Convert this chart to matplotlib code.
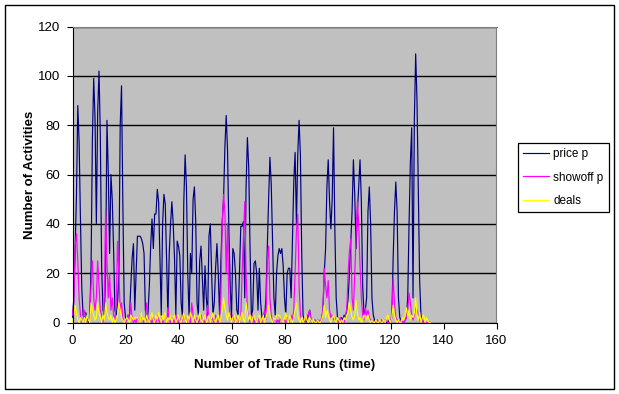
import numpy as np
import matplotlib.pyplot as plt
from matplotlib.patches import Rectangle

# values, one value every half trade run (0 .. 135)
step = 0.5

price_p = [
    2, 10, 30, 52, 88, 73, 42, 14, 3, 1, 4, 2, 0, 3, 22, 74, 99, 83, 40, 85,
    102, 76, 22, 5, 3, 20, 82, 61, 28, 60, 50, 30, 5, 3, 8, 20, 80, 96, 48, 8,
    2, 1, 3, 2, 15, 26, 32, 5, 20, 35, 35, 35, 34, 32, 28, 5, 1, 4, 15, 31,
    42, 30, 44, 44, 54, 49, 26, 3, 40, 52, 48, 26, 2, 28, 40, 49, 40, 26, 3, 33,
    31, 27, 8, 2, 49, 68, 55, 20, 2, 28, 20, 50, 55, 41, 8, 3, 25, 31, 18, 5,
    23, 10, 3, 35, 40, 20, 3, 8, 22, 32, 20, 3, 25, 41, 50, 71, 84, 70, 38, 15,
    2, 30, 28, 20, 5, 3, 20, 39, 39, 41, 10, 55, 75, 63, 30, 3, 5, 24, 25, 20,
    5, 22, 8, 2, 3, 2, 10, 30, 50, 67, 56, 33, 10, 3, 20, 27, 30, 28, 30, 23,
    10, 3, 20, 22, 22, 10, 34, 57, 69, 40, 68, 82, 68, 28, 3, 1, 0, 1, 3, 5,
    1, 0, 0, 1, 0, 1, 0, 0, 1, 5, 20, 30, 55, 66, 49, 38, 50, 79, 38, 10,
    2, 1, 1, 2, 1, 3, 2, 5, 10, 20, 33, 45, 66, 52, 30, 45, 55, 66, 49, 15,
    3, 5, 10, 45, 55, 40, 10, 3, 1, 0, 1, 0, 0, 1, 0, 0, 1, 0, 0, 1,
    0, 2, 26, 45, 57, 45, 10, 2, 1, 0, 0, 1, 2, 10, 40, 65, 79, 10, 82, 109,
    90, 53, 17, 3, 1, 0, 0, 0, 0, 0, 0,
]

showoff_p = [
    3, 8, 31, 36, 25, 10, 3, 0, 1, 5, 2, 0, 1, 2, 15, 25, 10, 5, 10, 25,
    15, 5, 3, 0, 10, 46, 25, 10, 20, 5, 10, 3, 1, 8, 33, 20, 5, 8, 2, 0,
    0, 1, 3, 1, 8, 2, 0, 1, 0, 2, 1, 0, 3, 1, 0, 2, 8, 2, 0, 1,
    0, 2, 1, 0, 3, 1, 0, 2, 0, 1, 3, 0, 6, 1, 0, 2, 1, 0, 3, 1,
    0, 2, 0, 1, 4, 1, 0, 3, 1, 0, 8, 3, 1, 0, 2, 0, 1, 3, 0, 1,
    0, 2, 7, 1, 0, 2, 1, 0, 3, 1, 0, 2, 10, 40, 52, 45, 20, 40, 8, 2,
    0, 3, 1, 0, 2, 1, 0, 2, 20, 35, 49, 20, 5, 2, 0, 1, 3, 0, 1, 0,
    2, 0, 1, 0, 3, 5, 1, 25, 31, 10, 3, 0, 1, 2, 0, 1, 0, 2, 1, 0,
    1, 0, 2, 0, 1, 3, 1, 5, 20, 37, 44, 15, 3, 1, 0, 2, 0, 3, 3, 5,
    1, 0, 0, 1, 0, 0, 1, 0, 2, 5, 22, 15, 10, 17, 5, 2, 3, 1, 2, 0,
    1, 0, 2, 0, 1, 0, 3, 5, 20, 29, 34, 10, 5, 20, 35, 49, 40, 23, 10, 3,
    1, 6, 3, 5, 2, 1, 0, 1, 0, 0, 1, 0, 0, 1, 0, 0, 0, 1, 0, 0,
    1, 3, 18, 8, 2, 1, 0, 1, 0, 0, 0, 1, 2, 5, 12, 8, 3, 1, 3, 6,
    5, 3, 1, 0, 1, 0, 0, 0, 0, 0, 0,
]

deals = [
    0, 3, 7, 4, 1, 0, 2, 1, 0, 2, 0, 3, 1, 0, 8, 5, 3, 1, 2, 8,
    4, 2, 0, 3, 1, 8, 4, 2, 1, 3, 0, 2, 0, 1, 3, 8, 5, 2, 1, 0,
    1, 2, 1, 0, 3, 2, 1, 2, 2, 2, 1, 0, 4, 1, 2, 0, 3, 1, 0, 2,
    4, 1, 0, 3, 1, 4, 2, 0, 3, 1, 4, 0, 2, 1, 3, 0, 2, 3, 0, 1,
    3, 1, 0, 2, 4, 1, 0, 3, 1, 4, 2, 0, 3, 1, 0, 2, 4, 1, 0, 2,
    3, 0, 1, 3, 0, 2, 4, 1, 0, 2, 3, 0, 2, 5, 10, 6, 3, 1, 4, 2,
    0, 2, 3, 0, 1, 3, 0, 2, 4, 1, 0, 8, 4, 1, 3, 0, 2, 3, 1, 0,
    2, 3, 0, 1, 3, 0, 2, 4, 7, 3, 1, 0, 2, 1, 3, 3, 3, 2, 1, 0,
    2, 4, 1, 0, 3, 1, 0, 2, 5, 8, 3, 1, 0, 2, 0, 1, 3, 1, 0, 2,
    1, 0, 1, 0, 0, 1, 0, 0, 1, 3, 7, 2, 5, 3, 1, 0, 2, 3, 1, 0,
    2, 1, 0, 1, 0, 2, 1, 3, 4, 8, 5, 2, 1, 3, 9, 4, 1, 2, 0, 1,
    3, 2, 1, 3, 1, 0, 1, 0, 0, 1, 0, 0, 1, 0, 0, 1, 0, 2, 3, 1,
    0, 2, 7, 3, 1, 0, 1, 0, 0, 2, 1, 3, 6, 2, 5, 1, 3, 2, 4, 10,
    3, 1, 4, 0, 2, 3, 0, 2, 1, 0, 0,
]

x_ticks = [0, 20, 40, 60, 80, 100, 120, 140, 160]
y_ticks = [0, 20, 40, 60, 80, 100, 120]

plt.rcParams['font.family'] = ['Liberation Sans', 'DejaVu Sans']

W, H = 619, 394
fig = plt.figure(figsize=(W / 100, H / 100), dpi=100)

# outer chart border
fig.patches.append(Rectangle((5 / W, 5 / H), 609 / W, 384 / H, transform=fig.transFigure,
                             fill=False, edgecolor='black', lw=1.0))

ax = fig.add_axes([72.5 / W, (H - 322.5) / H, 424 / W, 295.8 / H])
ax.set_facecolor('#C0C0C0')

for vals, col, name in [(price_p, '#000080', 'price p'),
                        (showoff_p, '#FF00FF', 'showoff p'),
                        (deals, '#FFFF00', 'deals')]:
    xs = np.arange(len(vals)) * step
    ax.plot(xs, vals, color=col, lw=0.85, label=name, clip_on=False)

ax.set_xlim(0, 160)
ax.set_ylim(0, 120)
ax.set_xticks(x_ticks)
ax.set_yticks(y_ticks)
ax.yaxis.grid(True, color='black', lw=1.0)
ax.set_axisbelow(True)
for s in ['top', 'right']:
    ax.spines[s].set_color('#808080')
for s in ['left', 'bottom']:
    ax.spines[s].set_color('black')
ax.tick_params(direction='out', length=4, width=0.8, labelsize=9.5, pad=5)

ax.set_xlabel('Number of Trade Runs (time)', fontsize=9.5, fontweight='bold')
ax.set_ylabel('Number of Activities', fontsize=9.5, fontweight='bold')
ax.xaxis.set_label_coords(0.5, (322.5 - 365) / 295.8, transform=ax.transAxes)
ax.yaxis.set_label_coords((30 - 72.5) / 424, 0.5, transform=ax.transAxes)
ax.xaxis.label.set_va('center')
ax.yaxis.label.set_va('center')

leg = ax.legend(loc='upper left', bbox_to_anchor=(518 / W, 1 - 143 / H),
                bbox_transform=fig.transFigure, borderaxespad=0, fancybox=False,
                edgecolor='black', framealpha=1, fontsize=8.5, handlelength=2.2,
                handletextpad=0.35, labelspacing=0.95, borderpad=0.45)
leg.get_frame().set_linewidth(0.9)

fig.savefig('out.png', dpi=100)
